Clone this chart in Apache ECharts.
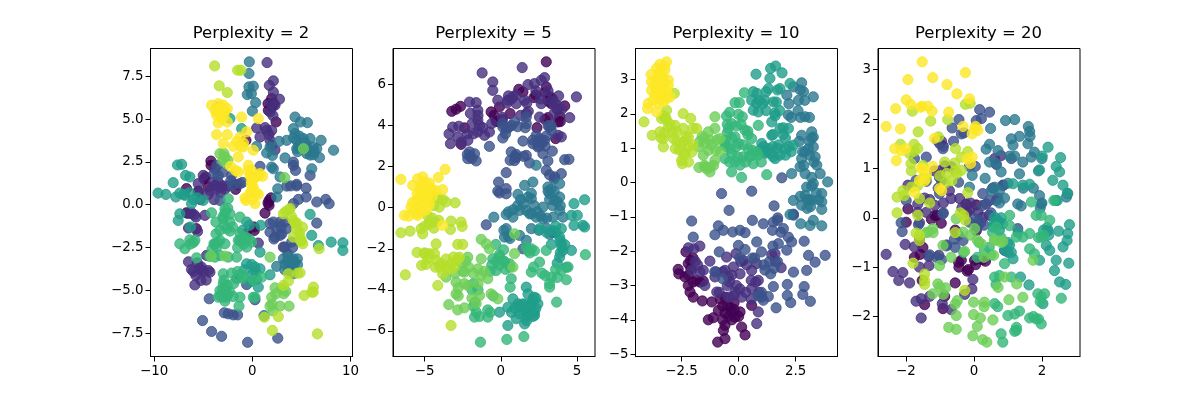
<!DOCTYPE html>
<html><head><meta charset="utf-8">
<script src="https://cdn.jsdelivr.net/npm/echarts@6/dist/echarts.min.js"></script>
<style>html,body{margin:0;padding:0;background:#fff}#c{width:1200px;height:400px}</style>
</head><body><div id="c"></div>
<script>
const titles=["Perplexity = 2","Perplexity = 5","Perplexity = 10","Perplexity = 20"];
const bandColors=["#440154","#46307e","#3b528b","#2a788e","#1f9e89","#35b779","#6ece58","#b5de2b","#fde725"];
const xRanges=[[-10.37,10.2],[-7.08,6.18],[-4.52,4.33],[-2.82,3.12]];
const yRanges=[[-8.86,9.12],[-7.25,7.76],[-5.07,3.91],[-2.81,3.43]];
const xTicks=[[-10,0,10],[-5,0,5],[-2.5,0,2.5],[-2,0,2]];
const yTicks=[[-7.5,-5,-2.5,0,2.5,5,7.5],[-6,-4,-2,0,2,4,6],[-5,-4,-3,-2,-1,0,1,2,3],[-2,-1,0,1,2,3]];
const xDecimals=[0,0,1,0];
const yDecimals=[1,0,0,0];

const p1c0=[[1.97,6.2],[1.63,5.51],[2.42,4.83],[-0.65,3.76],[-4.22,2.55],[-4.76,1.62],[-1.6,1.17],[-6.7,0.94],[1.7,0.25],[1.7,-0.04],[1.29,-0.49],[0.2,-1.5],[-0.58,-1.69],[-6.7,-0.47],[-4.5,1.05],[2.2,5.9],[2,5.7],[1.6,5.9],[-4.2,2.3],[1.6,0.1],[1.9,0.4],[-1.7,0.9],[-5.5,0.8],[0.2,-1.3],[-4.9,1.5],[-5.7,-1.4],[-6.3,-0.5],[-5.2,-3.8]];
const p1c1=[[1.5,8.3],[2.14,7.23],[1.73,6.97],[2.14,6.58],[2.76,6.16],[2.31,5.81],[1.8,5.42],[0.44,4.48],[1.46,4.34],[1.97,4.34],[0.78,3.95],[1.8,3.76],[1.97,3.47],[-3.81,2.1],[-3.47,1.32],[-3.81,1.13],[-3.3,1.03],[-4.32,0.84],[-5,1.71],[-5.51,1.23],[-5.51,0.74],[-6.19,-0.47],[-5.75,-0.72],[-4.83,-0.62],[-6.5,-1.36],[-5.58,-1.56],[0.61,-2.24],[-6.5,-3.33],[-6.19,-3.78],[-5.17,-3.64],[-4.49,-3.84],[-4.66,-2.96],[-5.85,-4.68],[-5.24,-4.42],[-4.32,-3.94],[-5.75,-4.13],[3.16,-2.47],[-4,1.3],[-3,1.1],[-2.8,0.9],[-4.5,0.6],[-3.6,0.9],[-3.2,0.7],[-3.9,0.3],[-2.5,1.1],[-5.3,0.3],[-5.9,-0.6],[-6.6,-0.5],[1.3,4.5],[1.7,4.1],[2.3,3.2],[1.9,5.9],[2.1,5.2],[-5,-3.9],[-5.4,-3.7],[-4.7,-4.4],[-5.6,-3.4],[-6,-3.9]];
const p1c2=[[-0.48,-8.03],[2.59,-7.79],[-3.13,-7.68],[-4.15,-7.4],[-5.07,-6.76],[-2.86,-6.31],[-2.45,-6.37],[-1.94,-6.43],[-1.5,-6.43],[-2.52,-5.24],[-4.39,-5.49],[0.27,-5.55],[-0.58,-4.66],[2.14,-1.01],[2.82,-1.01],[1.8,-1.6],[2.31,-1.89],[2.82,-1.79],[3.5,-1.4],[6.56,-1.07],[3.33,-2.47],[4.01,-2.18],[6.56,0.16],[7.48,0.31],[7.82,0.06],[4.18,0.06],[4.69,0.31],[5.48,0.45],[5.48,0.97],[4.52,1.19],[3.5,1.09],[5.88,1.71],[4.18,2.3],[4.18,2.49],[-2.11,1.71],[-3.47,1.71],[-1.26,1.23],[-3.3,0.25],[0.78,2.24],[-3.6,2.3],[-3.9,1.8],[-3,1.9],[-2.2,1.4],[-2,1.1],[2.5,-1.5],[2.2,-2],[2.9,-1.3],[3.3,-1],[3,-1.7],[1.8,-1.1],[4.1,-2.5],[3.6,-2.9],[4.5,1.1],[4.4,2],[3.9,1.1],[-1,1.3]];
const p1c3=[[-0.31,8.34],[-0.34,7.66],[-0.34,6.88],[0.1,6.92],[-0.51,6.43],[-0.1,6.49],[0.34,5.96],[0,5.47],[4.35,5.12],[4.9,4.83],[5.61,4.79],[4.18,4.44],[4.35,4.15],[3.5,3.76],[2.72,3.7],[4.52,3.76],[5.2,3.86],[5.88,3.86],[7,3.76],[4.52,3.27],[5.54,3.37],[6.22,3.37],[6.56,3.27],[5.54,2.98],[6.22,2.92],[6.84,2.75],[8.27,3.18],[1.8,3.37],[0.44,3.41],[1.46,3.02],[2.04,2.88],[3.33,2.73],[1.97,2.2],[2.14,2.1],[6.05,2.1],[2.82,1.62],[2.59,0.93],[2.48,0.45],[3.16,-3.16],[3.67,-3.06],[4.18,-3.16],[4.59,-3.16],[3.33,-3.45],[3.84,-3.45],[4.18,-3.64],[3.67,-3.84],[4.18,-4.03],[2.48,-3.6],[1.19,-6.47],[3.6,-3.3],[4,-3.3],[4.2,-3.8],[3.9,-3.9],[3.3,-3.8],[4.3,-3.4],[4.6,-3.5],[4.7,3.4],[4.6,3.1],[5.1,3.3],[5.9,3.1],[5.4,3.6],[4.2,3.9],[4.8,4],[5.9,2.9],[6.3,3.1]];
const p1c4=[[-9.6,0.68],[-8.8,0.6],[-7.79,0.45],[-8.06,1.29],[-7.62,2.32],[-7.2,2.36],[-6.8,1.71],[-6.36,1.62],[-7.38,0.68],[-6.87,0.55],[-6.19,0.06],[-7.38,-0.53],[-7.55,-0.92],[-5,0.25],[-3.8,-2.3],[-0.58,-1.01],[0.85,-1.2],[-1.26,-2.08],[-0.58,-3.45],[-0.07,-3.49],[0.27,-3.64],[0.78,-3.74],[-1.6,-4.32],[0.44,-4.34],[0.61,-4.81],[1.8,-4.09],[0.78,-2.77],[5.88,-0.56],[6.05,-1.79],[6.73,-2.38],[8.03,-2.18],[9.22,-2.22],[9.22,-2.67],[-1.09,4.44],[-2.28,5.03],[-7,0.6],[-6.4,0.7],[-6.3,-1.3],[-6,0.3],[-5.6,0.4],[-0.3,-1.2],[-1,-1.5],[0,-4.1],[-0.8,-3.8],[0.3,-3.9],[-1.3,-4.1],[-0.2,-4.5]];
const p1c5=[[-2.45,0.35],[-2.79,-0.23],[-4.15,-0.47],[-2.28,-0.53],[-3.71,-1.01],[-2.96,-0.82],[-2.28,-1.01],[-1.26,-0.72],[-3.3,-1.5],[-2.28,-1.54],[-1.43,-2.08],[-3.91,-2.28],[-3.3,-2.08],[-3.64,-2.47],[-2.79,-2.28],[-7.38,-2.28],[-6.87,-2.57],[-6.36,-2.05],[-5.85,-2.08],[-4.32,-3.02],[-3.81,-3.06],[-3.3,-2.96],[-2.45,-3.06],[-1.6,-3.06],[-5.68,-3.1],[-1.26,-1.69],[-0.75,-2.08],[-0.58,-2.47],[-0.07,-2.18],[-2.11,-3.99],[-2.96,-4.03],[-2.96,-4.62],[-2.55,-4.71],[-3.3,-5.01],[-3.47,-5.4],[-2.62,-5.4],[-1.94,-5.36],[-2.79,-5.63],[-1.26,-5.4],[-1.36,-5.92],[-0.92,-4.13],[0.27,-5.4],[0.1,-5.4],[0.95,-4.23],[-3.57,5.71],[-2.5,-0.2],[-2.8,-0.5],[-3,-0.7],[-3.7,-1.7],[-2.6,-1.4],[-2,-1.3],[-2.9,-1.2],[-1.5,-2.5],[-0.9,-2.3],[-0.7,-1.9],[-0.3,-2],[-3.5,-2.2],[-4.1,-2.6],[-3,-4.9],[-2.7,-5],[-3.3,-5.3],[-3,-5.4],[-2.3,-5.1],[-2.9,-4.4],[-6,-2.2],[-6.3,-2.3],[-1.5,-3.9],[-1.9,-4.6],[-1,-4.3],[0.1,-4.4]];
const p1c6=[[-3.3,2.98],[-2.79,2.79],[-2.62,2.4],[1.97,-5.4],[2.31,-4.85],[3.4,-5.05],[1.8,-3.06],[3.3,1.58],[5.2,3.27],[1.8,-5.92],[2.82,-5.92],[3.74,-5.92],[-2.9,3],[-3,2.6],[-2.5,2.6],[3,-4.9],[2.4,-5.2],[2,-5.8],[2.1,-6.2],[3.2,-5.2],[-4.2,-3],[-2.8,-3]];
const p1c7=[[3.16,-0.53],[3.84,-0.23],[4.18,-0.92],[4.52,-1.07],[5.1,-1.31],[4.86,-1.89],[5.14,-2.28],[4.18,-1.89],[6.8,-2.57],[3.67,-4.03],[4.86,-3.97],[6.22,-4.81],[6.05,-5.1],[5.27,-5.3],[2.65,-6.53],[2.04,-7.34],[6.63,-7.54],[1.22,-6.57],[3.16,-4.71],[3.67,-4.46],[-3.84,8.1],[-1.5,7.85],[-1.16,7.85],[-3.37,6.94],[-2.55,6.55],[4.5,-1.4],[4.8,-1.6],[5,-2.1],[3.4,-0.4],[3.7,-0.3],[4.9,-2.1],[4,-0.7],[4.4,-1.1],[4.6,-4],[6.2,-5.1]];
const p1c8=[[-4.15,5.81],[-3.47,5.9],[-2.96,5.81],[-3.81,5.51],[-3.3,5.42],[-2.79,5.51],[-3.64,5.22],[-3.13,5.03],[-2.55,5.61],[-3.47,4.77],[-2.55,4.83],[-1.09,5.12],[0.61,5.03],[-3.64,4.09],[-2.55,4.09],[-2.96,3.57],[-1.94,3.41],[-1.26,3.95],[-0.58,4.25],[-0.92,3.37],[0.1,3.18],[-1.43,2.79],[-2.21,2.24],[-1.43,1.91],[-0.41,2.3],[-0.24,1.71],[0.78,1.81],[1.05,1.66],[-0.07,1.42],[0.1,1.03],[-0.24,0.64],[-0.75,0.39],[0.61,0.6],[0.27,0.06],[-0.65,0.25],[-3.5,5.6],[-3,5.4],[-3.6,5.4],[-3.2,5.2],[-3.2,5.7],[-2.9,5.2],[-0.9,3.6],[-1.6,3.7],[-1.2,3.4],[-0.1,1.7],[-0.1,1.2],[0.1,1.5],[0.3,1.6],[0.6,1.7],[-0.1,0.8],[0.4,0.7],[0,0.3],[-0.4,2],[-0.1,2],[-1.7,2]];

const p2c0=[[2.98,7.11],[-3.22,4.7],[-2.94,4.8],[-2.65,4.94],[-2.39,3.89],[-2.61,3.09],[-0.64,4.67],[-0.09,4.91],[-0.31,4.21],[0.61,4.59],[1.18,5.77],[1.45,5.64],[2.17,5.37],[2.98,5.89],[3.25,5.4],[3.31,5.07],[4.19,4.96],[3.09,4.39],[3.86,4.46],[3.75,4.18],[2.37,3.9],[3.6,3.37],[2.9,5.6],[3.1,5.2],[2.3,5.5],[3.4,5.3],[3.7,4.8],[-0.45,4.5],[-0.2,4.2],[0.1,4.3],[2.9,4.3],[3.9,4.2]];
const p2c1=[[1.4,6.83],[-1.23,6.57],[-0.53,6.13],[-0.53,5.72],[1.78,6],[2.21,6.05],[2.87,6.34],[2.65,6.21],[3.79,5.45],[4.96,5.4],[4.52,4.39],[3.75,3.53],[3.97,3.45],[0.79,5.4],[0.46,5.24],[-0.2,5.24],[-2.06,5.15],[-1.62,5.12],[-1.51,4.75],[-1.51,4.26],[-1.89,4.1],[-3.16,3.93],[-2.76,3.97],[-2.83,3.45],[-3.31,3.12],[-2.17,3.28],[-1.51,3.69],[-1.07,3.53],[-0.75,3.69],[1.67,4.59],[1.56,5.24],[2.65,5.07],[3.53,5.07],[1.01,5.07],[2.54,4.42],[-2,4.6],[-1.5,4.5],[-1.4,4],[-2.2,3.6],[-1.8,3.6],[-2.6,3.2],[-3.4,3.6],[-1.2,3.9],[-0.6,4.1],[0.1,4.4],[0.4,5.1],[0.7,5.3],[1,5.5],[0.5,5.45],[1.7,5.1],[1.8,4.7],[1.3,4.5],[2.3,5.7],[2.6,5.3],[3.1,5.7],[3.3,5.2],[3.7,5],[3.5,4.6],[4,4.8]];
const p2c2=[[-0.96,-0.83],[1.45,-2],[-0.15,1.25],[0.35,0.93],[-0.2,0.81],[-0.09,0.72],[0.35,0.68],[0.35,1.71],[2.98,1.82],[3.53,1.5],[3.97,1.66],[4.19,2.34],[4.47,2.36],[3.09,2.28],[1.89,2.18],[0.68,2.72],[0.61,2.31],[1.01,2.44],[1.67,2.55],[2.43,2.96],[2.76,2.63],[3.38,2.76],[-2.06,2.72],[-1.73,2.63],[-2.17,2.39],[-1.62,2.28],[-0.75,2.99],[1.45,3.25],[2.1,3.12],[2.54,3.37],[2.87,3.28],[3.2,3.93],[3.31,3.77],[2.32,3.53],[0.13,3.4],[0.13,3.93],[0.35,3.85],[0.9,4.18],[1.67,4.1],[1.67,4.42],[0.1,4.1],[0.3,3.6],[0.5,3.9],[0.7,4],[1.1,3.95],[1.6,3.9],[2.7,3.3],[2.4,3.2],[2.7,3.15],[2.5,3],[2.1,3.3],[3,3.5],[3.1,4],[3.3,4],[-2,2.5],[-1.9,2.4],[-2.2,2.6],[1,2.6],[0.9,2.3],[0.95,2.5],[1.5,2.5],[2.9,3],[3.2,1.6],[3.5,1.4]];
const p2c3=[[0.24,-1.43],[1.23,-1.35],[1.67,-1.59],[2,-1.02],[0.35,-0.33],[0.79,-0.46],[1.23,-0.13],[1.67,-0.13],[2,-0.29],[2.32,-0.46],[2.76,0.03],[2.76,-0.54],[3.42,-0.46],[3.86,-0.13],[4.08,-0.46],[1.12,0.65],[1.56,1.09],[2.1,1.25],[1.78,0.52],[2,0.44],[3.09,1.01],[3.2,0.68],[3.53,0.36],[3.86,1.17],[3.86,0.52],[-0.46,-0.46],[0.35,-1.02],[2.32,2.07],[2,0.7],[2.2,0.1],[1.5,0.2],[1.1,0.1],[0.8,-0.1],[0.5,-0.2],[1.3,0.4],[1.9,-0.3],[2.4,-0.2],[2.6,-0.4],[3,-0.5],[3.1,0.8],[3.3,0.9],[3.2,0.4],[3.4,0.1],[3.5,0.8],[3.7,0.3],[3.9,0.1],[2.5,-1.1],[3.2,-1.3],[3,-1],[3.4,-1.2],[3.6,-1.2],[0.5,-1.4],[0.6,-1.5],[0.2,-1.1]];
const p2c4=[[0.79,-4.44],[1.12,-4.68],[0.46,-4.85],[-0.09,-5.09],[0.46,-5.74],[1.01,-5.41],[1.67,-3.87],[1.78,-4.2],[1.56,-4.68],[2,-4.68],[2.43,-4.68],[1.45,-5.01],[1.89,-5.17],[1.56,-5.66],[2.21,-5.25],[1.23,-5.17],[2.17,-4.36],[3.86,-2.41],[4.08,-2.08],[4.63,-2.08],[3.97,-1.76],[3.86,-1.43],[3.31,-1.79],[3.97,-1.02],[5.39,-0.86],[5.5,-0.94],[4.8,-0.86],[4.63,-0.37],[5.02,-0.37],[4.8,0.2],[5.5,0.39],[2.98,-1.19],[3.42,-1.11],[2.54,-1.02],[3.9,-1.6],[4,-1.9],[3.9,-2.2],[4.2,-1.8],[3.6,-0.9],[4.3,-2.9],[3.7,-2.7],[1.9,-5.1],[2.2,-5.1],[2.3,-4.9],[1.9,-4.8],[1.7,-4.9],[2.1,-4.5],[2.3,-4.4],[1.4,-4.7],[1.7,-5.3],[2.1,-5.3],[1.7,-5.5],[0.9,-4.9],[1.2,-4.8],[0.7,-5.1]];
const p2c5=[[-0.33,-1.79],[0.18,-2.05],[-0.53,-2.49],[-0.09,-2.41],[0.24,-2.65],[-0.31,-3.06],[0.57,-2.73],[0.68,-3.46],[0.61,-3.87],[-1.34,-6.55],[0.39,-6.42],[1.51,-6.28],[-1.73,-5.33],[-0.86,-5.33],[-0.86,-4.98],[-1.62,-5.09],[2,-3.14],[2.7,-3.19],[3.31,-3.38],[3.66,-4.6],[3.2,-3.87],[4.3,-3.51],[3.97,-3.06],[4.41,-2.89],[5.55,-2.29],[1.67,-1.92],[2,-2],[2.54,-2.65],[2.98,-2.08],[2.15,-2.89],[-0.1,-2.3],[0.2,-2.6],[-0.3,-2.6],[-0.6,-2.8],[-0.7,-3.1],[-0.1,-2.8],[0.6,-2.9],[0.3,-3],[2.2,-2.1],[1.9,-2.2],[1.8,-2.1],[3.7,-3.4],[2.9,-3.3],[3.2,-3.7],[3.6,-3],[-1.8,-4.8],[-1.7,-4.6],[-1.5,-4],[-1.9,-4],[-1.8,-3.7],[-0.5,-4.3],[-0.7,-5.1],[-1.4,-5.3]];
const p2c6=[[-3.6,-3.38],[-2.94,-3.63],[-2.39,-3.14],[-2.94,-4.2],[-3.42,-4.72],[-2.83,-4.98],[-2.39,-4.88],[-1.62,-4.68],[-1.4,-4.28],[-1.29,-1.54],[-0.96,-1.76],[-0.75,-2],[-1.29,-2.49],[-1.51,-2.98],[-0.86,-3.46],[-2.17,-2.41],[-2.17,-3.79],[-0.2,-4.44],[-0.64,-4.2],[0.9,-2.24],[0.9,-1.27],[0.79,-2.89],[-2.6,-2.7],[-2.3,-2.6],[-2.1,-2.9],[-1.8,-3.2],[-2.5,-3.1],[-2.4,-3.7],[-2.8,-3.9],[-3,-3.2],[-2.8,-4.3],[-1.9,-4.4],[-1.5,-3.7],[-1.3,-3.3],[-1.1,-3.1]];
const p2c7=[[-6.56,-1.22],[-5.96,-1.14],[-6.27,-3.27],[-5.24,-1.02],[-5.13,-1.27],[-4.69,-0.7],[-4.07,-0.62],[-3.31,-1.06],[-3.27,-0.65],[-2.61,-0.7],[-2.54,-0.91],[-3,0.24],[-3.6,0.28],[-4.04,0.03],[-4.41,0.52],[-4.25,-1.76],[-5.5,-2.18],[-5.02,-2.24],[-4.69,-2.24],[-4.36,-2.24],[-5.2,-2.81],[-4.91,-2.76],[-4.25,-2.57],[-3.93,-2.73],[-3.82,-3.22],[-3.6,-2.89],[-3.27,-2.73],[-2.94,-2.57],[-2.72,-2.41],[-2.83,-1.79],[-2.5,-1.79],[-4.14,-3.79],[-3.27,-5.74],[-5,-0.9],[-4.7,-0.8],[-4.8,-0.4],[-4.5,-0.5],[-4.3,-0.7],[-4.4,-1],[-5,-2.2],[-4.8,-2.5],[-4.3,-2.9],[-4,-2.9],[-3.6,-2.5],[-3.1,-2.4],[-3.3,-3],[-3.1,-2.9],[-2.8,-2.5],[-4.4,0.1],[-4.1,0.5],[-3.8,0.4]];
const p2c8=[[-6.56,1.38],[-3.66,1.87],[-4.1,1.48],[-5.13,1.5],[-5.46,1.41],[-5.79,1.09],[-5.24,1.09],[-4.69,1.01],[-3.82,0.88],[-5.57,0.36],[-5.24,0.68],[-4.91,0.52],[-5.9,0.03],[-5.46,0.03],[-5.13,0.2],[-6.34,-0.37],[-6.05,-0.41],[-5.46,-0.37],[-3.82,-0.86],[-4.5,0.85],[-5.3,0.9],[-5,0.8],[-4.8,0.7],[-4.6,0.8],[-5.5,0.7],[-5.3,0.4],[-4.9,0.3],[-5.1,0.55],[-4.9,-0.1],[-5.2,-0.2],[-5.5,-0.3],[-5.7,-0.1],[-5.8,0.25],[-4.7,0.15],[-4.5,0.55],[-4.3,0.85],[-4.7,1.2],[-5,1.25]];

const p3c0=[[-0.92,-4.65],[-0.6,-4.55],[0.28,-4.44],[-1.33,-4],[-1.11,-3.94],[-0.67,-4.31],[-0.6,-4.16],[-0.31,-3.77],[0.06,-3.77],[0.13,-4.21],[0.57,-3.58],[-1.18,-3.48],[-1.59,-3.45],[-1.99,-3.34],[-2.13,-3.19],[-2.21,-3],[-2.65,-2.53],[-2.62,-2.66],[-2.35,-2.75],[-1.84,-2.85],[-1.55,-2.87],[-2.21,-2.36],[-2.11,-2.27],[-2.31,-2.02],[-0.6,-3.34],[-0.38,-3.63],[-0.89,-3.73],[-0.16,-3.92],[-0.6,-3.8],[-0.45,-3.9],[-0.3,-4],[-0.5,-3.6],[-0.2,-3.7],[0,-3.9],[-0.7,-3.6],[-0.2,-3.5],[-0.8,-3.4],[-0.7,-4],[-2.2,-2.7],[-2,-2.9],[-1.7,-2.9],[-2.1,-2.5],[-2,-2.2]];
const p3c1=[[-1.96,-1.93],[-1.7,-1.85],[-1.26,-2.29],[-0.53,-2.17],[-0.12,-2.07],[0.2,-2.27],[0.79,-2.36],[1.59,-2.07],[1.86,-2.48],[-0.23,-2.46],[-0.6,-2.56],[-1.04,-2.75],[-0.45,-2.75],[0.06,-2.66],[0.57,-2.56],[0.86,-2.85],[-1.55,-2.56],[-2.06,-2.56],[-1.48,-3],[-0.96,-3.19],[-0.16,-3.19],[0.13,-3.34],[0.57,-3.09],[1.01,-3.34],[-0.45,-3.34],[0.79,-4.11],[0.86,-3.77],[-0.2,-3.3],[0.05,-3.1],[-0.1,-3],[0.3,-3.2],[0.55,-2.85],[0.75,-2.9],[-0.5,-3],[-0.85,-3.2],[-1,-2.6],[-0.7,-2.6],[-0.3,-2.7],[0.1,-2.3],[0.35,-2.4],[1.45,-2.1],[1.6,-2.3],[-2.2,-1.9],[-1.9,-2.3],[-1.7,-2.6],[-1.8,-2.4],[-0.4,-2.9],[0.9,-3.2],[0.55,-3.4]];
const p3c2=[[1.89,0.14],[0.57,-0.25],[-0.75,-0.32],[-0.42,-0.81],[1.55,-0.68],[2.4,-0.92],[-2.06,-1.12],[0.6,-1.1],[1.08,-1.2],[1.52,-1.15],[1.71,-1.03],[1.48,-1.39],[1.96,-1.34],[2.18,-1.59],[-0.89,-1.26],[-1.04,-1.52],[-0.67,-1.39],[-0.26,-1.44],[0.06,-1.39],[0.28,-1.46],[-1.99,-1.59],[2.87,-1.71],[2.32,-1.73],[2.11,-1.97],[3.06,-2.12],[3.79,-2.12],[3.35,-2.32],[2.98,-2.56],[2.4,-2.61],[1.4,-2.66],[2.13,-2.97],[2.87,-3.03],[2.81,-3.26],[2.13,-3.29],[2.28,-3.5],[3.14,-3.46],[1.64,-3.65],[1.52,-3.03],[1.3,-3.32],[1.08,-3.43],[0.79,-1.73],[1.74,-1.78],[-0.01,-1.83],[0.28,-1.95],[-0.85,-2.02],[1,-2.02],[0.85,-3.3],[1,-3.2],[1.7,-2.3],[1.35,-2.3],[1.1,-2.4],[1.15,-2.55],[0.6,-2.2],[1.7,-1.1],[1.85,-1.45],[0.05,-2.2],[-0.7,-2.8],[-1.05,-2.6],[0.7,-2.2],[1.5,-1.85],[2.4,-0.95],[1.55,-2.5]];
const p3c3=[[2.18,1.97],[2.76,2.91],[2.4,2.79],[2.62,2.4],[2.84,2.65],[3.27,2.5],[2.91,1.92],[3.1,1.9],[2.11,2.55],[2.76,1.38],[3.2,1.48],[3.27,1.33],[3.06,0.99],[3.27,1.04],[3.35,0.75],[2.76,0.7],[2.69,0.46],[3.42,0.51],[2.32,0.26],[2.91,0.26],[3.27,-0.03],[3.57,0.26],[3.9,0.02],[2.98,-0.13],[2.91,-0.37],[2.4,-0.52],[2.76,-0.66],[3.2,-0.52],[3.64,-0.32],[3.64,-0.56],[3.64,-0.78],[3.27,-1.1],[3.64,-1.26],[3.13,-1.25],[2.72,-1.2],[2.25,-0.93],[2.2,2.3],[2.3,1.9],[2.6,2.1],[2.9,2.4],[2.7,2.7],[2.7,1.9],[2.65,1.2],[3.1,1.2],[3.2,1.3],[3.1,0.8],[3.3,0.6],[2.8,0.9],[2.9,0.9],[2.85,0.5],[3.2,0.15],[3.2,-0.1],[3.1,-0.5],[3.5,-0.5],[3.4,-0.3],[3,-0.5],[3,-0.75],[2.7,-0.4],[3.15,-0.7]];
const p3c4=[[0.76,3.16],[1.4,3.33],[1.62,3.4],[1.9,3.2],[1.37,3.04],[0.64,2.65],[0.57,2.4],[0.79,2.31],[0.64,2.11],[0.86,2.06],[1.15,2.4],[1.52,2.35],[1.3,2.74],[1.59,2.03],[1.45,1.77],[1.81,1.58],[1.45,1.38],[1.01,1.14],[1.3,0.99],[1.52,0.75],[1.81,0.8],[2.18,1.58],[2.03,0.99],[2.4,1.09],[2.25,2.89],[1.81,2.74],[1.15,0.85],[1.2,2.1],[1.05,2.3],[0.9,2.4],[0.8,2.6],[1.2,2.65],[1.7,2.7],[1.65,2.35],[1.6,1.95],[1.8,2.1],[1.95,1.6],[1.95,1.4],[2.05,1.3],[1.1,1.05],[1.2,0.9],[1.5,1.05],[1.5,1.4],[1.75,1.1],[2.05,0.8],[1.6,0.7],[1.7,1],[1.4,0.85],[0.95,0.95],[2.2,1.05],[2.3,0.9]];
const p3c5=[[-0.53,1.94],[-0.31,1.72],[-0.01,1.99],[0.16,1.92],[-0.45,1.58],[-0.16,1.33],[-0.6,0.7],[-0.31,0.31],[0.13,0.15],[-0.16,0.6],[0.06,0.51],[0.19,0.75],[0.64,0.55],[0.99,0.6],[0.42,0.99],[0.79,0.89],[0.57,1.28],[0.28,1.53],[0.86,1.67],[-0.38,0.99],[-0.01,1.14],[1.23,0.23],[-0.6,1.24],[-0.16,2.33],[0.03,2.33],[0.25,2.62],[-0.5,1.45],[-0.3,1.3],[-0.6,1.1],[-0.55,1.05],[-0.3,0.85],[-0.4,0.6],[-0.1,1.05],[0.2,1.1],[0.45,0.75],[-0.05,0.75],[0.4,1.4],[0.6,0.95],[0.3,0.6],[0.6,0.8],[0.85,0.8],[0.4,1.5],[0.1,1.7],[-0.1,1.65],[-0.5,1.7],[-0.4,2.05]];
const p3c6=[[-1.74,0.44],[-1.48,0.46],[-1.26,0.31],[-1.55,0.8],[-1.33,1.48],[-1.45,1.14],[-1.77,1.04],[-1.04,0.65],[-1.04,1.92],[-1.26,1.24],[-1.33,0.94],[-0.82,1.28],[-1.04,1.58],[-1.5,1.3],[-1.2,1.1],[-1,0.95],[-0.95,1.25],[-1.1,0.5],[-1.25,0.45],[-1.5,0.5],[-1.4,0.4],[-1.7,1.2],[-1.6,1.35],[-0.8,0.9]];
const p3c7=[[-4.15,1.77],[-3.79,1.38],[-3.38,1.87],[-3.45,1.48],[-3.3,1.28],[-3.3,1.04],[-3.16,1.82],[-3.08,1.62],[-2.79,1.67],[-2.43,2.01],[-2.1,1.87],[-2.85,1.28],[-2.72,1.48],[-2.43,1.58],[-2,1.58],[-1.84,1.58],[-2.78,0.99],[-2.43,1.19],[-2.2,1.33],[-2.35,0.85],[-2.47,0.55],[-2.2,0.6],[-2.06,0.89],[-2.82,2.6],[-3.16,2.11],[-3.3,1.95],[-3.2,1.9],[-3,1.7],[-2.9,1.45],[-2.7,1.2],[-2.6,0.95],[-2.5,1.1],[-2.4,0.8],[-2.3,1.35],[-2.2,1.05],[-3.4,1.3],[-3.25,1.45],[-2,1.1],[-2.5,0.65]];
const p3c8=[[-3.16,3.52],[-3.45,3.45],[-3.6,3.33],[-3.23,3.28],[-3.84,3.15],[-3.52,3.18],[-3.3,3.08],[-3.82,2.94],[-3.6,2.99],[-3.08,2.99],[-3.82,2.69],[-3.52,2.74],[-3.08,2.84],[-3.67,2.55],[-3.38,2.5],[-3.16,2.45],[-3.96,2.31],[-3.99,2.16],[-3.52,2.31],[-3,2.5],[-3.6,2.06],[-3.4,3.25],[-3.35,3],[-3.7,2.85],[-3.6,2.75],[-3.3,2.85],[-3.15,2.7],[-3.5,2.55],[-3.3,2.35],[-3.2,2.55],[-3.4,2.6],[-3.5,3.05],[-3.25,3.4],[-3.35,2.65],[-3.75,2.4]];

const p4c0=[[-0.23,0.28],[0.07,0.26],[-0.2,0.11],[-1.94,0.18],[-0.96,-0.11],[-1.25,-0.03],[-1.09,0.05],[-1.99,-0.09],[-1.6,-0.45],[-1.58,-0.74],[-0.37,-0.86],[0.02,-0.86],[0.34,-0.88],[-0.16,-1.05],[-0.44,-1],[-0.55,-1.32],[-1.45,-1.76],[-0.86,-1.59],[-0.91,-1.84],[-1.52,-1.27],[0.07,-0.26],[-1.5,-0.6],[-1.75,-0.8],[-0.45,-0.9],[0.05,-0.95],[-0.2,-1.08],[0.25,-0.85],[-0.55,-0.25],[-1.15,0.05]];
const p4c1=[[0.61,1.2],[0.8,1.26],[0.66,1.08],[0.87,0.66],[0.36,0.28],[0.12,0.11],[0.26,0.01],[-0.13,0.15],[-0.67,0.39],[-0.42,0.39],[-1.3,0.37],[-1.65,0.28],[-1.65,0.11],[-1.4,0.11],[-1.94,0.66],[-1.16,0.95],[-0.67,1.03],[-1.01,0.82],[-0.72,0.55],[-1.32,-0.97],[-1.03,-0.76],[-1.33,-0.78],[-1.6,-1],[-2.38,-1.09],[-2.58,-0.74],[-1.89,-1.32],[-2.21,-1.27],[-2.09,-1.11],[-2.02,-0.54],[-1.75,-0.59],[-1.7,-1.69],[-1.3,-1.59],[-1.55,-2.03],[-0.93,-1.74],[-0.67,-1.86],[-1.55,-1.64],[-0.27,-1.55],[-0.06,-1.44],[-0.03,-1.25],[0.7,0.4],[0.55,0.6],[0.2,-0.1],[0.45,0.05],[-0.35,0.2],[-0.1,0.3],[-1.15,0.25],[-1.6,-0.1],[-1.45,0.4],[-0.9,0.3],[-1,0.95],[-0.85,1.05],[-1,1.5],[-0.95,1.55],[-0.9,1.45]];
const p4c2=[[0.17,2.19],[0.46,2.14],[-0.44,1.99],[-0.64,1.82],[0.07,1.97],[0.22,2.01],[-0.6,1.55],[-1.4,1.23],[-1.75,1.2],[-1.08,1.57],[-0.91,1.4],[-0.13,1.04],[0.04,1.04],[-0.45,0.72],[-1.4,0.74],[-1.7,0.76],[-1.01,0.49],[0.26,0.49],[0.46,0.35],[0.66,0.35],[0.85,0.66],[1.1,1.2],[0.02,-0.02],[-0.13,-0.09],[-0.91,0.08],[0.9,-0.66],[-0.57,-0.43],[-0.32,-0.46],[-0.81,-0.57],[1.29,-0.22],[-1.99,0.35],[-2.14,-0.1],[-2.11,-0.28],[-1.63,-0.14],[-0.37,1.7],[-0.29,1.72],[0.15,-0.05],[0.3,-0.15],[0.1,-0.2],[0.25,0.25],[0.5,0.1],[-0.55,-0.6],[-0.8,-0.55],[-0.45,-0.35],[-1.1,-0.8],[-1.3,-0.75],[-0.95,-0.85],[-0.9,0.1],[-1.05,0.6],[-0.95,0.75]];
const p4c3=[[1.64,1.75],[1.34,1.65],[1.59,1.5],[1.78,1.33],[1.69,1.23],[1.44,1.13],[1.15,1.47],[0.46,1.49],[0.71,1.36],[0.36,1.39],[0.8,0.93],[0.33,0.8],[0.46,1.13],[1.34,0.89],[0.51,0.55],[0.61,0.62],[1.29,0.28],[1.39,0.24],[1.93,0.45],[2.76,0.49],[2.72,0.42],[2.18,-0.26],[1.98,0.28],[0.93,1.97],[1.2,1.99],[0.49,1.81],[-0.05,0.86],[-0.13,0.62],[0.75,0.55],[0.75,0.3],[1,0.7],[1.05,1.25],[1.6,1.85],[1.65,1.65],[2,1.2],[1.9,0.95],[1.45,0.6],[1.75,0.6],[1.1,1.6],[1.95,0.2],[0.65,1.1],[1.2,1.25],[2,0.3],[1,-0.7],[0.9,0.4]];
const p4c4=[[2.81,-0.14],[2.49,-0.27],[2.76,-0.32],[2.74,-0.46],[2.62,-0.59],[2.79,-0.92],[2.42,-0.86],[2.37,-1.07],[2.52,-1.3],[2.7,-1.35],[2.03,-1.74],[1.62,-1.36],[1.37,-1.2],[2.13,-0.56],[2.23,-0.66],[1.15,-0.83],[0.92,-0.66],[1.93,-0.86],[0.74,-0.09],[0.56,-0.19],[0.85,-0.12],[0.61,0.01],[2.62,0.66],[2.32,0.76],[2.52,0.93],[2.42,1.04],[2.55,1.22],[2.18,1.43],[2.01,1.25],[1.93,0.97],[1.64,0.68],[1.44,0.66],[1.15,0.69],[0.65,-0.12],[0.75,-0.25],[0.7,-0.05],[0.6,-0.1],[0.8,0],[1.3,-0.3],[1.05,-0.55],[1.1,-0.7],[2.05,-0.25],[2.15,-0.2],[2.2,-0.35],[2.45,0.35],[2.4,0.35],[2.75,0.5],[1,-0.5]];
const p4c5=[[0.31,-0.66],[0.61,-1.2],[0.75,-1.17],[0.66,-0.19],[1.05,0.05],[1.05,-0.16],[1.64,-0.32],[1.44,-0.39],[1.25,-0.39],[1.98,-0.39],[1.69,0.32],[1.83,0.05],[1.98,0.05],[2.23,-0.05],[2.35,0.35],[1.64,-0.63],[1.78,-0.73],[0.9,-0.93],[0.61,-1.74],[1,-1.98],[1.2,-1.95],[1.25,-2.22],[1.25,-2.28],[0.8,-2.35],[0.85,-2.52],[1.34,-1.89],[1.64,-2.03],[1.83,-2.05],[1.98,-2.15],[1.88,-1.54],[2.08,-1.54],[2.57,-1.63],[0.45,-0.6],[0.5,-0.75],[0.1,-0.8],[0.8,-0.4],[1.1,-1.2],[0.65,-1.35],[1.98,-1.6],[1.95,-1.7],[1.9,-2.05],[1.75,-2],[1.2,-2.3],[0.7,-1.8],[1.9,-0.4],[0.55,-0.3],[2.05,-0.35],[0.15,-0.5],[-0.3,-0.7]];
const p4c6=[[-1.35,-0.29],[-1.21,-0.22],[-0.52,-0.02],[-0.32,-0.29],[-0.91,-0.56],[-0.67,-0.8],[-0.27,-0.68],[-1.01,-0.97],[-1.06,-1.34],[-0.83,-1.42],[-1.21,-1.54],[-0.49,-1.68],[-0.52,-1.98],[-0.74,-2.22],[-0.52,-2.26],[-0.01,-1.71],[0.31,-1.71],[-0.01,-1.96],[0.19,-2.03],[0.1,-2.2],[-0.03,-2.39],[0.26,-2.47],[0.38,-2.52],[0.56,-2.07],[1.03,-1.66],[1.44,-1.61],[0.85,-0.48],[0.58,-0.76],[0.02,-0.22],[0.22,-0.53],[0.61,-0.46],[1.74,-0.86],[0.71,-1.41],[0.9,-1.2],[1.26,-1.34],[-0.1,-0.35],[0.1,-0.45],[0.3,-0.8],[-1.2,-0.3],[-1.4,-0.3],[-1,-1.4],[-0.9,-1.55],[-0.55,-1.75],[0.3,-1.8],[0.6,-0.45],[0.8,-0.5]];
const p4c7=[[-0.25,2.3],[-0.11,2.32],[-1.81,2.16],[-1.27,1.96],[-0.77,1.99],[-1.64,1.74],[-2.16,1.49],[-1.04,1.64],[-1.76,1.49],[-1.89,1.3],[-0.54,1.4],[-0.18,1.34],[-0.37,1.23],[-0.86,1.13],[-0.57,1.11],[-1.84,0.95],[-1.5,1.06],[-0.37,0.96],[-2.09,0.55],[-2.26,0.42],[-1.84,0.62],[-0.18,0.51],[-2.26,0.1],[-1.6,0.39],[-1.7,-0.31],[-1.6,-0.46],[-1.79,-0.92],[-1.45,-1.14],[-1.45,-1.27],[-0.27,-1.47],[-1.65,0.65],[-1.5,0.8],[-1.4,0.8],[-1.3,0.3],[-1,0.85],[-0.85,0.7],[-0.8,0.9],[-0.65,0.75],[-0.55,0.95],[-0.5,0.9],[-1.6,-0.35],[-1.65,0.05],[-0.25,-0.05],[-0.3,0.05],[-0.55,-0.3],[-0.4,0.1],[-2.05,0.45],[-1.75,1.35],[-1.65,1.4],[-1.85,1.1],[-1.45,-1.35]];
const p4c8=[[-1.52,3.16],[-1.94,2.8],[-1.21,2.84],[-0.25,2.94],[-0.79,2.7],[-0.5,2.51],[-0.13,2.41],[-1.99,2.39],[-1.86,2.3],[-2.3,2.21],[-1.57,2.24],[-1.52,2.26],[-1.35,2.26],[-1.23,2.16],[-0.74,2.14],[-2.58,1.85],[-2.16,1.8],[0.12,1.77],[0.02,1.8],[-0.32,1.85],[-1.16,1.61],[-0.05,1.23],[-2.33,1.4],[-2.28,1.16],[-2.14,1.36],[-1.21,1.04],[-1.5,0.99],[-1.6,0.76],[-1.01,0.59],[-1.75,0.52],[-1.55,1],[-1.4,0.9],[-1.45,0.75],[-0.95,0.55],[-0.2,1.2],[-0.1,1.1],[0.05,1.85],[-0.05,1.7],[-2,1.4]];

const panels=[
 [p1c0,p1c1,p1c2,p1c3,p1c4,p1c5,p1c6,p1c7,p1c8],
 [p2c0,p2c1,p2c2,p2c3,p2c4,p2c5,p2c6,p2c7,p2c8],
 [p3c0,p3c1,p3c2,p3c3,p3c4,p3c5,p3c6,p3c7,p3c8],
 [p4c0,p4c1,p4c2,p4c3,p4c4,p4c5,p4c6,p4c7,p4c8]
];
const lefts=[150.5,393,635.5,878];
const font='"DejaVu Sans"';
const fmt=d=>v=>{const s=Math.abs(v).toFixed(d);return (v<0?"\u2212":"")+s;};
const axisCommon=(range,ticks,dec,margin)=>({type:"value",min:range[0],max:range[1],splitLine:{show:false},
  axisLine:{show:true,onZero:false,lineStyle:{color:"#000",width:1}},
  axisTick:{show:true,length:5,inside:false,customValues:ticks,lineStyle:{color:"#000",width:1}},
  axisLabel:{show:true,customValues:ticks,formatter:fmt(dec),color:"#000",fontFamily:font,fontSize:13.4,margin:margin,hideOverlap:false,showMinLabel:true,showMaxLabel:true}});
const option={animation:false,backgroundColor:"#fff",
 title:titles.map((t,i)=>({text:t,left:lefts[i]+100.5,top:25.5,padding:0,textAlign:"center",textStyle:{fontFamily:font,fontSize:16.5,fontWeight:"normal",color:"#000"}})),
 grid:lefts.map(l=>({left:l,top:48.5,width:202,height:308,show:true,borderColor:"#000",borderWidth:1,backgroundColor:"#fff",containLabel:false})),
 xAxis:lefts.map((l,i)=>Object.assign(axisCommon(xRanges[i],xTicks[i],xDecimals[i],9),{gridIndex:i,position:"bottom"})),
 yAxis:lefts.map((l,i)=>Object.assign(axisCommon(yRanges[i],yTicks[i],yDecimals[i],7),{gridIndex:i,position:"left"})),
 series:[]};
panels.forEach((bands,i)=>bands.forEach((pts,b)=>option.series.push({type:"scatter",xAxisIndex:i,yAxisIndex:i,data:pts,symbolSize:10.2,large:false,
  itemStyle:{color:bandColors[b],opacity:0.8,borderColor:bandColors[b],borderWidth:1},emphasis:{disabled:true},silent:true})));
echarts.init(document.getElementById("c"),null,{renderer:"canvas"}).setOption(option);
</script></body></html>
